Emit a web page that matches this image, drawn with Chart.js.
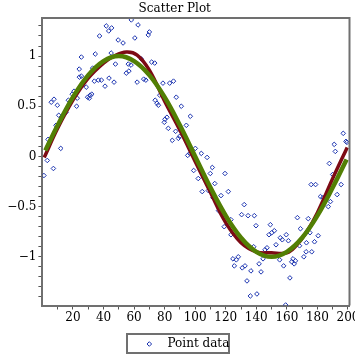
<!DOCTYPE html>
<html><head><meta charset="utf-8">
<script src="https://cdn.jsdelivr.net/npm/chart.js@4/dist/chart.umd.min.js"></script>
<style>html,body{margin:0;padding:0;background:#fff}#wrap{width:355px;height:355px}</style>
</head><body><div id="wrap"><canvas id="c" width="355" height="355"></canvas></div>
<script>
const pointX = [1.0,3.2,3.7,5.0,5.8,7.2,7.6,8.9,9.8,10.7,12.0,12.4,14.0,15.5,17.0,18.8,19.5,20.7,22.4,22.8,24.1,24.2,25.5,25.5,28.7,29.6,30.7,31.2,32.3,32.9,34.0,34.6,36.6,37.4,38.6,
41.0,41.8,43.4,43.6,45.3,45.0,46.9,47.8,49.6,52.8,54.9,56.6,56.2,58.0,58.2,60.5,62.0,62.6,64.8,66.3,67.7,69.3,70.0,71.5,73.5,73.8,75.0,75.9,76.8,78.9,
79.8,80.2,81.5,82.4,83.3,85.0,85.8,87.2,87.6,89.0,89.8,90.9,94.2,95.1,96.4,96.8,99.0,100.1,102.0,104.0,104.6,105.5,107.8,108.6,109.9,111.2,111.6,112.8,115.3,116.9,119.0,119.5,
121.7,123.4,123.4,124.7,125.6,126.9,128.2,130.4,130.8,132.1,132.6,133.9,134.6,136.1,136.5,138.3,138.7,139.8,140.4,141.8,143.1,144.4,145.7,147.0,148.3,149.2,150.1,151.8,152.9,155.3,155.7,157.0,157.9,159.2,159.6,
161.0,162.0,163.2,164.0,164.8,165.6,166.9,168.3,168.9,171.1,172.6,172.8,174.0,175.1,175.9,176.3,178.1,178.8,180.5,182.0,183.7,187.1,188.5,187.8,190.0,191.0,191.7,192.9,195.5,196.9,198.7,199.3];
const pointY = [-0.19,-0.04,0.17,0.15,0.54,-0.12,0.57,0.31,0.51,0.41,0.08,0.39,0.42,0.44,0.56,0.56,0.62,0.65,0.50,0.58,0.87,0.79,0.80,0.99,0.69,0.59,0.58,0.61,0.62,0.88,0.75,1.02,0.76,1.20,0.76,
0.70,1.30,1.25,0.78,1.28,1.03,0.74,0.92,1.16,1.13,0.83,0.85,0.92,0.91,1.36,1.18,0.74,1.31,0.97,0.77,0.76,1.21,1.24,0.94,0.93,0.56,0.53,0.51,0.61,0.73,
0.34,0.37,0.39,0.28,0.73,0.16,0.75,0.25,0.59,0.18,0.20,0.50,0.31,0.01,0.03,0.40,-0.14,0.08,-0.22,0.03,-0.35,-0.21,-0.01,-0.34,-0.17,-0.11,-0.41,-0.27,-0.54,-0.39,-0.70,-0.17,
-0.35,-0.63,-0.78,-1.02,-1.09,-1.03,-1.00,-0.58,-1.11,-0.48,-1.09,-1.24,-0.59,-1.39,-1.14,-0.90,-0.59,-0.69,-1.37,-1.07,-1.15,-1.02,-0.93,-0.91,-0.78,-0.68,-0.76,-0.74,-0.88,-1.03,-0.81,-0.83,-1.09,-1.48,-0.78,
-0.84,-1.21,-1.05,-1.02,-1.07,-1.04,-0.61,-0.89,-0.72,-1.00,-0.95,-0.86,-0.62,-0.76,-0.28,-0.95,-0.85,-0.28,-0.79,-0.40,-0.41,-0.50,-0.45,-0.07,-0.18,0.12,0.05,-0.38,-0.28,0.23,0.15,0.14];
const redX = [1.2,10,20,30,40,47,55,62,70,80,90,100,110,120,130,140,150,160,166,173,180,190,199.5];
const redY = [-0.01,0.28,0.56,0.78,0.93,1.00,1.04,1.01,0.86,0.55,0.26,-0.05,-0.36,-0.66,-0.86,-0.95,-0.96,-0.96,-0.89,-0.75,-0.56,-0.22,0.09];
const greenX = [1.9,10,20,30,40,50,60,70,80,90,100,110,120,130,140,150,160,170,180,190,199.1];
const greenY = [0.06,0.31,0.59,0.81,0.95,1.00,0.95,0.81,0.59,0.31,0.00,-0.31,-0.59,-0.81,-0.95,-1.00,-0.95,-0.81,-0.59,-0.31,-0.03];
const xTickLabels = [20,40,60,80,100,120,140,160,180,200];
const yTickLabels = [-1,-0.5,0,0.5,1];
const legendText = 'Point data';
const titleText = 'Scatter Plot';

const FONT = "'DejaVu Serif', serif";
Chart.defaults.font.family = FONT;
const zip = (xs, ys) => xs.map((x, i) => ({x, y: ys[i]}));
const AXIS = '#707070';
const PTCOL = '#1c34b0';

const framePlugin = {
  id: 'frame',
  afterDraw(chart) {
    const {ctx, chartArea: a} = chart;
    ctx.save();
    ctx.strokeStyle = AXIS; ctx.lineWidth = 2;
    ctx.beginPath();
    ctx.moveTo(a.left, a.top); ctx.lineTo(a.right, a.top); ctx.lineTo(a.right, a.bottom);
    ctx.stroke();
    // legend box
    const bx = 127, by = 334, bw = 102, bh = 19;
    ctx.strokeRect(bx, by, bw, bh);
    const cx = 149.3, cy = 344, r = 2.3;
    ctx.strokeStyle = PTCOL; ctx.lineWidth = 1;
    ctx.beginPath();
    ctx.moveTo(cx - r, cy); ctx.lineTo(cx, cy - r); ctx.lineTo(cx + r, cy); ctx.lineTo(cx, cy + r); ctx.closePath();
    ctx.stroke();
    ctx.fillStyle = '#000'; ctx.font = '12px ' + FONT; ctx.textBaseline = 'middle'; ctx.textAlign = 'left';
    ctx.fillText(legendText, 167.5, cy);
    ctx.restore();
  }
};

new Chart(document.getElementById('c'), {
  type: 'scatter',
  data: {
    datasets: [
      {label: legendText, data: zip(pointX, pointY), pointStyle: 'rectRot', pointRadius: 2.3, borderWidth: 1,
       borderColor: PTCOL, backgroundColor: 'rgba(0,0,0,0)', order: 3},
      {label: 'fit1', data: zip(redX, redY), showLine: true, pointRadius: 0, borderColor: '#7d0a14', borderWidth: 3.5, tension: 0.4, fill: false, order: 2},
      {label: 'fit2', data: zip(greenX, greenY), showLine: true, pointRadius: 0, borderColor: '#527f04', borderWidth: 4.5, tension: 0.4, fill: false, order: 1}
    ]
  },
  options: {
    responsive: false, animation: false, devicePixelRatio: 1,
    layout: {padding: {left: 0, right: 5.5, top: 0, bottom: 30}},
    plugins: {
      legend: {display: false}, tooltip: {enabled: false},
      title: {display: true, text: titleText, color: '#000', font: {size: 12, weight: 'normal', family: FONT}, padding: {top: 2, bottom: 1.5}}
    },
    scales: {
      x: {
        type: 'linear', min: 0, max: 201,
        border: {display: true, color: AXIS, width: 2},
        grid: {drawOnChartArea: false, drawTicks: true, tickLength: 4,
               tickColor: c => (c.tick && c.tick.value === 0) ? 'rgba(0,0,0,0)' : '#555', lineWidth: 1},
        ticks: {stepSize: 10, includeBounds: false, autoSkip: false, maxRotation: 0, minRotation: 0, padding: 1, color: '#000', font: {size: 12},
                callback: v => xTickLabels.includes(Math.round(v)) && Math.abs(v - Math.round(v)) < 1e-6 ? String(Math.round(v)) : ''},
        afterFit: s => { s.paddingLeft = 0; s.paddingRight = 0; s.height = 19.5; }
      },
      y: {
        type: 'linear', min: -1.485, max: 1.38,
        border: {display: true, color: AXIS, width: 2},
        grid: {drawOnChartArea: false, drawTicks: true, tickLength: 4, tickColor: '#555', lineWidth: 1},
        ticks: {stepSize: 0.1, includeBounds: false, autoSkip: false, padding: 2, color: '#000', font: {size: 12},
                callback: v => {
                  const m = yTickLabels.find(t => Math.abs(t - v) < 1e-6);
                  if (m === undefined) return '';
                  return m < 0 ? '\u2212' + String(-m) : String(m);
                }},
        afterFit: s => { s.width = 42.4; s.paddingTop = 0; s.paddingBottom = 0; }
      }
    }
  },
  plugins: [framePlugin]
});
</script></body></html>
